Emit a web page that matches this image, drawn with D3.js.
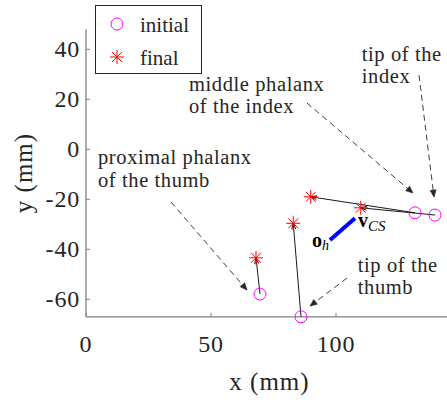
<!DOCTYPE html>
<html>
<head>
<meta charset="utf-8">
<script src="https://cdn.jsdelivr.net/npm/d3@7"></script>
<style>
  body { margin: 0; background: #fff; }
</style>
</head>
<body>
<div id="chart"></div>
<script>
// initial (circles) and final (stars) positions, mm
var initX = [69.6, 86.0, 131.6, 139.6];
var initY = [-57.9, -67.0, -25.4, -26.3];
var finalX = [68.0, 82.9, 89.9, 109.9];
var finalY = [-43.4, -29.6, -19.0, -23.4];

// the o_h -> v_CS segment
var csX = [97.6, 107.6];
var csY = [-36.3, -27.6];

var xTicks = [0, 50, 100];
var yTicks = [-60, -40, -20, 0, 20, 40];

// annotations: text lines, text anchor (mm), dashed arrow from/to (mm)
var noteText = [["tip of the", "index"], ["middle phalanx", "of the index"],
                ["proximal phalanx", "of the thumb"], ["tip of the", "thumb"]];
var noteAt = [[110.3, 35.5], [41.2, 23.4], [4.8, -5.9], [108.7, -49.0]];
var arrowFrom = [[133.2, 29.7], [88.4, 18.5], [34.0, -21.1], [104.4, -51.5]];
var arrowTo = [[139.2, -19.1], [130.8, -17.5], [64.4, -56.3], [89.6, -62.7]];

var svgWidth = 447;
var svgHeight = 402;
var serif = "Liberation Serif";

var svg = d3.select("#chart")
  .append("svg")
    .attr("width", svgWidth)
    .attr("height", svgHeight);

// equal axes, 2.5 px per mm
var x = d3.scaleLinear().domain([0, 147]).range([86, 86 + 147 * 2.5]);
var y = d3.scaleLinear().domain([-67, 48]).range([149.3 + 67 * 2.5, 149.3 - 48 * 2.5]);

var axisColor = "#808080";
var textColor = "#262626";

// axes lines
svg.append("line")
  .attr("x1", x(0)).attr("x2", x(147))
  .attr("y1", y(-67)).attr("y2", y(-67))
  .attr("stroke", axisColor).attr("stroke-width", 1.3);
svg.append("line")
  .attr("x1", x(0)).attr("x2", x(0))
  .attr("y1", y(-67)).attr("y2", y(48))
  .attr("stroke", axisColor).attr("stroke-width", 1.3);

// ticks point inward
svg.selectAll(".xt").data(xTicks).enter().append("line")
  .attr("x1", d => x(d)).attr("x2", d => x(d))
  .attr("y1", y(-67)).attr("y2", y(-67) - 4)
  .attr("stroke", axisColor);
svg.selectAll(".yt").data(yTicks).enter().append("line")
  .attr("x1", x(0)).attr("x2", x(0) + 4)
  .attr("y1", d => y(d)).attr("y2", d => y(d))
  .attr("stroke", axisColor);

svg.selectAll(".xl").data(xTicks).enter().append("text")
  .attr("x", d => x(d))
  .attr("y", 352)
  .attr("text-anchor", "middle")
  .style("font-family", serif)
  .attr("font-size", 24)
  .attr("letter-spacing", 0.8)
  .attr("fill", textColor)
  .text(d => d);
svg.selectAll(".yl").data(yTicks).enter().append("text")
  .attr("x", 80)
  .attr("y", d => y(d))
  .attr("dy", "0.34em")
  .attr("text-anchor", "end")
  .style("font-family", serif)
  .attr("font-size", 24)
  .attr("letter-spacing", 0.8)
  .attr("fill", textColor)
  .text(d => d);

svg.append("text")
  .attr("x", 269.5).attr("y", 390)
  .attr("text-anchor", "middle")
  .style("font-family", serif)
  .attr("font-size", 25)
  .attr("letter-spacing", 1)
  .attr("fill", textColor)
  .text("x (mm)");
svg.append("text")
  .attr("transform", "translate(32," + ((y(48) + y(-67)) / 2) + ") rotate(-90)")
  .attr("text-anchor", "middle")
  .style("font-family", serif)
  .attr("font-size", 25)
  .attr("letter-spacing", 1)
  .attr("fill", textColor)
  .text("y (mm)");

// quiver arrows initial -> final
var idx = d3.range(initX.length);
function headPath(x1, y1, x2, y2, len, half) {
  var a = Math.atan2(y2 - y1, x2 - x1);
  var bx = x2 - len * Math.cos(a), by = y2 - len * Math.sin(a);
  var px = -Math.sin(a) * half, py = Math.cos(a) * half;
  return "M" + (bx + px) + "," + (by + py) + "L" + x2 + "," + y2 + "L" + (bx - px) + "," + (by - py);
}
svg.selectAll(".q").data(idx).enter().append("line")
  .attr("x1", i => x(initX[i])).attr("y1", i => y(initY[i]))
  .attr("x2", i => x(finalX[i])).attr("y2", i => y(finalY[i]))
  .attr("stroke", "#000").attr("stroke-width", 0.9);
svg.selectAll(".qh").data(idx).enter().append("path")
  .attr("d", i => headPath(x(initX[i]), y(initY[i]), x(finalX[i]), y(finalY[i]), 6, 2))
  .attr("fill", "none").attr("stroke", "#000").attr("stroke-width", 0.9);

// blue segment
svg.append("line")
  .attr("x1", x(csX[0])).attr("y1", y(csY[0]))
  .attr("x2", x(csX[1])).attr("y2", y(csY[1]))
  .attr("stroke", "#0000ff").attr("stroke-width", 4);

var oh = svg.append("text")
  .attr("x", x(csX[0]) - 18).attr("y", y(csY[0]) + 7)
  .style("font-family", serif)
  .attr("font-size", 20).attr("fill", "#000");
oh.append("tspan").attr("font-weight", "bold").text("o");
oh.append("tspan").attr("font-style", "italic").attr("font-size", 14).attr("dy", 3).text("h");

var vcs = svg.append("text")
  .attr("x", x(csX[1]) + 3).attr("y", y(csY[1]) + 9)
  .style("font-family", serif)
  .attr("font-size", 20).attr("fill", "#000");
vcs.append("tspan").attr("font-weight", "bold").text("v");
vcs.append("tspan").attr("font-style", "italic").attr("font-size", 15).attr("dy", 4).text("CS");

// markers
svg.selectAll(".ci").data(idx).enter().append("circle")
  .attr("cx", i => x(initX[i])).attr("cy", i => y(initY[i]))
  .attr("r", 6)
  .attr("fill", "none").attr("stroke", "#ff00ff").attr("stroke-width", 1);

function starPath(cx, cy, s) {
  var d = s * Math.SQRT1_2;
  return "M" + (cx - s) + "," + cy + "H" + (cx + s) +
    "M" + cx + "," + (cy - s) + "V" + (cy + s) +
    "M" + (cx - d) + "," + (cy - d) + "L" + (cx + d) + "," + (cy + d) +
    "M" + (cx - d) + "," + (cy + d) + "L" + (cx + d) + "," + (cy - d);
}
svg.selectAll(".st").data(idx).enter().append("path")
  .attr("d", i => starPath(x(finalX[i]), y(finalY[i]), 7))
  .attr("stroke", "#ff0000").attr("stroke-width", 1).attr("fill", "none");

// annotations
noteText.forEach(function(lines, k) {
  var t = svg.append("text")
    .attr("x", x(noteAt[k][0])).attr("y", y(noteAt[k][1]))
    .style("font-family", serif)
    .attr("font-size", 20.5)
    .attr("letter-spacing", 0.6)
    .attr("fill", textColor);
  lines.forEach(function(s, j) {
    t.append("tspan").attr("x", x(noteAt[k][0])).attr("dy", j ? 22.5 : 0).text(s);
  });
  var x1 = x(arrowFrom[k][0]), y1 = y(arrowFrom[k][1]);
  var x2 = x(arrowTo[k][0]), y2 = y(arrowTo[k][1]);
  svg.append("line")
    .attr("x1", x1).attr("y1", y1).attr("x2", x2).attr("y2", y2)
    .attr("stroke", textColor).attr("stroke-width", 0.9)
    .attr("stroke-dasharray", "6,4");
  svg.append("path")
    .attr("d", headPath(x1, y1, x2, y2, 7, 3) + "Z")
    .attr("fill", textColor).attr("stroke", textColor).attr("stroke-width", 0.6);
});

// legend
var legend = svg.append("g");
legend.append("rect")
  .attr("x", 95.5).attr("y", 5.5).attr("width", 106).attr("height", 68)
  .attr("fill", "#fff").attr("stroke", textColor).attr("stroke-width", 1);
legend.append("circle")
  .attr("cx", 117).attr("cy", 24).attr("r", 6)
  .attr("fill", "none").attr("stroke", "#ff00ff");
legend.append("path")
  .attr("d", starPath(117, 57, 7))
  .attr("stroke", "#ff0000").attr("fill", "none");
legend.append("text").attr("x", 140).attr("y", 31.5)
  .style("font-family", serif)
  .attr("font-size", 21).attr("fill", textColor).text("initial");
legend.append("text").attr("x", 140).attr("y", 64.5)
  .style("font-family", serif)
  .attr("font-size", 21).attr("fill", textColor).text("final");
</script>
</body>
</html>
